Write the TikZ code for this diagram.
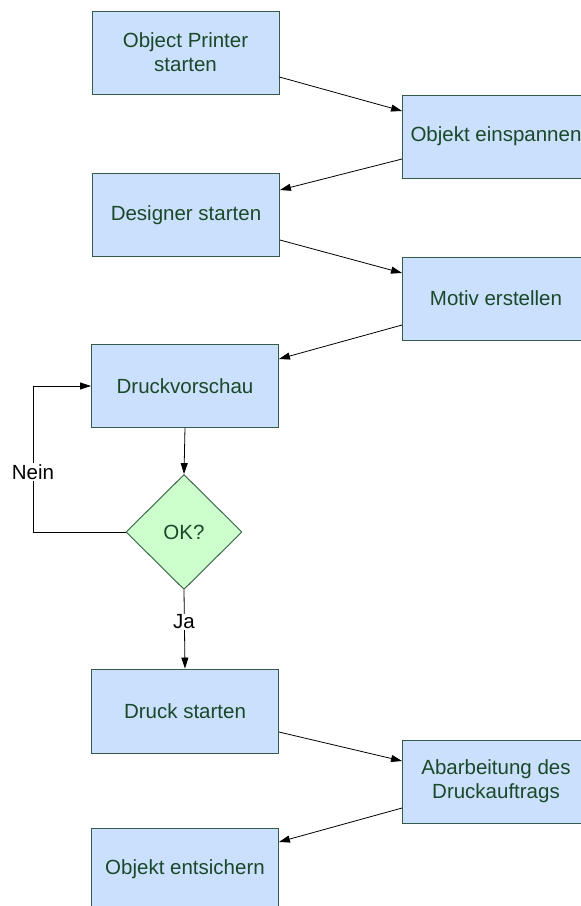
\documentclass[tikz,border=0pt]{standalone}
\usepackage{fontspec}
\setmainfont{Liberation Sans}
\usetikzlibrary{arrows.meta,calc,shapes.geometric}
\definecolor{boxfill}{RGB}{203,224,252}
\definecolor{boxline}{RGB}{52,92,70}
\definecolor{boxtext}{RGB}{26,72,42}
\definecolor{decfill}{RGB}{204,255,204}
\tikzset{
  proc/.style={draw=boxline, fill=boxfill, line width=0.9pt, rectangle,
    minimum width=187pt, minimum height=83pt, inner sep=0pt,
    align=center, text=boxtext, font=\fontsize{20.5}{24.3}\selectfont},
  decision/.style={draw=boxline, fill=decfill, line width=0.9pt, diamond,
    minimum width=116pt, minimum height=115pt, inner sep=0pt,
    text=boxtext, font=\fontsize{20.5}{24.3}\selectfont},
  arr/.style={draw=black, line width=0.8pt, -{Triangle[length=11pt,width=7pt]}},
  lbl/.style={fill=white, text=black, inner sep=1pt, font=\fontsize{20.5}{24.3}\selectfont}
}
\begin{document}
\begin{tikzpicture}[x=1pt,y=-1pt]
  \useasboundingbox (0,0) rectangle (581,906);
  \clip (0,0) rectangle (581,906);
  % process steps
  \node[proc] (b1) at (185.5,52.5) {Object Printer\\starten};
  \node[proc] (b2) at (496,136.5) {Objekt einspannen};
  \node[proc] (b3) at (186,215) {Designer starten};
  \node[proc] (b4) at (496,298.5) {Motiv erstellen};
  \node[proc] (b5) at (185,386) {Druckvorschau};
  \node[decision] (dia) at (184,532) {OK?};
  \node[proc, minimum height=84pt] (b6) at (185,711) {Druck starten};
  \node[proc] (b7) at (496,781.5) {Abarbeitung des\\Druckauftrags};
  \node[proc] (b8) at (185,869.5) {Objekt entsichern};
  % zig-zag connectors
  \draw[arr] ($(b1.east)+(0,24.5)$) -- ($(b2.west)+(0,-25.5)$);
  \draw[arr] ($(b2.west)+(0,22.5)$) -- ($(b3.east)+(0,-25)$);
  \draw[arr] ($(b3.east)+(0,25)$) -- ($(b4.west)+(0,-25.5)$);
  \draw[arr] ($(b4.west)+(0,26.5)$) -- ($(b5.east)+(0,-27)$);
  \draw[arr] (b5.south) -- (dia.north);
  % loop back when not OK
  \coordinate (loopx) at (33,0);
  \draw[arr] (dia.west) -- (dia.west -| loopx) |- (b5.west);
  \node[lbl] (nein) at (33,472) {Nein};
  % continue when OK
  \draw[arr] (dia.south) -- (b6.north);
  \node[lbl] (ja) at (184,622) {Ja};
  \draw[arr] ($(b6.east)+(0,21)$) -- ($(b7.west)+(0,-20.5)$);
  \draw[arr] ($(b7.west)+(0,26.5)$) -- ($(b8.east)+(0,-27.5)$);
\end{tikzpicture}
\end{document}
